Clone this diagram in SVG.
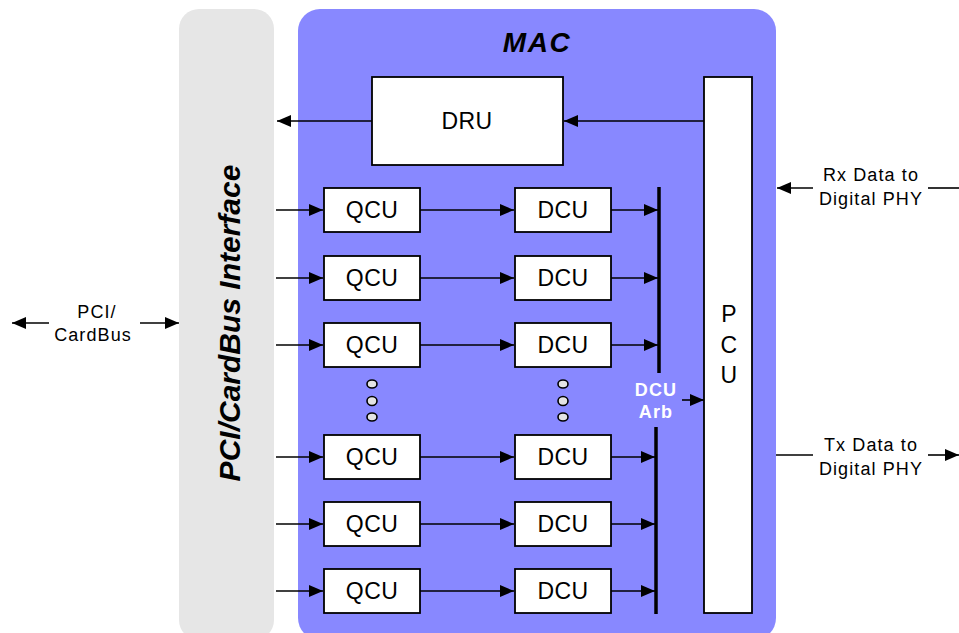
<svg xmlns="http://www.w3.org/2000/svg" width="959" height="633" viewBox="0 0 959 633">
<style>
.box{fill:#fff;stroke:#000;stroke-width:1.8}
.lbl{font-family:"Liberation Sans",Arial,sans-serif;font-size:23px;letter-spacing:0.4px;text-anchor:middle;fill:#000}
.side{font-family:"Liberation Sans",Arial,sans-serif;font-size:18px;letter-spacing:1.1px;text-anchor:middle;fill:#000}
.ln{stroke:#000;stroke-width:1.6;fill:none}
.arr{stroke:#000;stroke-width:1.6;fill:none;marker-end:url(#ah)}
.bar{stroke:#000;stroke-width:3.5}
.dot{fill:#e4e4e4;stroke:#000;stroke-width:1.6}
</style>
<defs>
<marker id="ah" markerUnits="userSpaceOnUse" markerWidth="14" markerHeight="12" refX="14" refY="6" orient="auto">
<path d="M0,0 L14,6 L0,12 z" fill="#000"/>
</marker>
</defs>
<rect width="959" height="633" fill="#fff"/>
<g id="pci-interface">
<rect x="179" y="9" width="95" height="631" rx="20" fill="#e6e6e6"/>
<text transform="translate(240,323) rotate(-90)" font-family="'Liberation Sans',Arial,sans-serif" font-size="30" font-weight="bold" font-style="italic" text-anchor="middle">PCI/CardBus Interface</text>
</g>
<g id="mac">
<rect x="298" y="9" width="478" height="631" rx="22" fill="#8888ff"/>
<text x="537" y="52" font-family="'Liberation Sans',Arial,sans-serif" font-size="28" font-weight="bold" font-style="italic" letter-spacing="1.5" text-anchor="middle">MAC</text>
</g>
<g id="dru"><rect class="box" x="372" y="77" width="191" height="88"/><text class="lbl" x="467" y="129">DRU</text></g>
<g id="pcu"><rect class="box" x="704" y="77" width="48" height="536"/>
<text class="lbl" x="729" y="322">P</text><text class="lbl" x="729" y="353">C</text><text class="lbl" x="729" y="383">U</text></g>
<g id="qcu1"><rect class="box" x="324" y="188" width="96" height="44"/><text class="lbl" x="372" y="218">QCU</text></g>
<g id="qcu2"><rect class="box" x="324" y="256" width="96" height="44"/><text class="lbl" x="372" y="286">QCU</text></g>
<g id="qcu3"><rect class="box" x="324" y="323" width="96" height="44"/><text class="lbl" x="372" y="353">QCU</text></g>
<g id="qcu4"><rect class="box" x="324" y="435" width="96" height="44"/><text class="lbl" x="372" y="465">QCU</text></g>
<g id="qcu5"><rect class="box" x="324" y="502" width="96" height="44"/><text class="lbl" x="372" y="532">QCU</text></g>
<g id="qcu6"><rect class="box" x="324" y="569" width="96" height="44"/><text class="lbl" x="372" y="599">QCU</text></g>
<g id="dcu1"><rect class="box" x="515" y="188" width="96" height="44"/><text class="lbl" x="563" y="218">DCU</text></g>
<g id="dcu2"><rect class="box" x="515" y="256" width="96" height="44"/><text class="lbl" x="563" y="286">DCU</text></g>
<g id="dcu3"><rect class="box" x="515" y="323" width="96" height="44"/><text class="lbl" x="563" y="353">DCU</text></g>
<g id="dcu4"><rect class="box" x="515" y="435" width="96" height="44"/><text class="lbl" x="563" y="465">DCU</text></g>
<g id="dcu5"><rect class="box" x="515" y="502" width="96" height="44"/><text class="lbl" x="563" y="532">DCU</text></g>
<g id="dcu6"><rect class="box" x="515" y="569" width="96" height="44"/><text class="lbl" x="563" y="599">DCU</text></g>
<g id="ellipsis">
<ellipse class="dot" cx="372" cy="384" rx="5" ry="4"/><ellipse class="dot" cx="372" cy="401" rx="5" ry="4.5"/><ellipse class="dot" cx="372" cy="417" rx="5" ry="4"/>
<ellipse class="dot" cx="563" cy="384" rx="5" ry="4"/><ellipse class="dot" cx="563" cy="401" rx="5" ry="4.5"/><ellipse class="dot" cx="563" cy="417" rx="5" ry="4"/>
</g>
<g id="dcu-arb">
<line class="bar" x1="659" y1="187" x2="659" y2="373"/>
<line class="bar" x1="656" y1="427" x2="656" y2="614"/>
<text x="656" y="396" font-family="'Liberation Sans',Arial,sans-serif" font-size="18" font-weight="bold" letter-spacing="1.2" fill="#fff" text-anchor="middle">DCU</text>
<text x="656" y="418" font-family="'Liberation Sans',Arial,sans-serif" font-size="18" font-weight="bold" letter-spacing="1.2" fill="#fff" text-anchor="middle">Arb</text>
</g>
<g id="external-labels">
<text class="side" x="97" y="318">PCI/</text>
<text class="side" x="93" y="341">CardBus</text>
<text class="side" x="871" y="181">Rx Data to</text>
<text class="side" x="871" y="205">Digital PHY</text>
<text class="side" x="871" y="451">Tx Data to</text>
<text class="side" x="871" y="475">Digital PHY</text>
</g>
<g id="connectors">
<line class="arr" x1="372" y1="121" x2="277" y2="121"/>
<line class="arr" x1="704" y1="121" x2="564" y2="121"/>
<line class="arr" x1="276" y1="210" x2="323" y2="210"/>
<line class="arr" x1="276" y1="278" x2="323" y2="278"/>
<line class="arr" x1="276" y1="345" x2="323" y2="345"/>
<line class="arr" x1="276" y1="457" x2="323" y2="457"/>
<line class="arr" x1="276" y1="524" x2="323" y2="524"/>
<line class="arr" x1="276" y1="591" x2="323" y2="591"/>
<line class="arr" x1="420" y1="210" x2="514" y2="210"/>
<line class="arr" x1="420" y1="278" x2="514" y2="278"/>
<line class="arr" x1="420" y1="345" x2="514" y2="345"/>
<line class="arr" x1="420" y1="457" x2="514" y2="457"/>
<line class="arr" x1="420" y1="524" x2="514" y2="524"/>
<line class="arr" x1="420" y1="591" x2="514" y2="591"/>
<line class="arr" x1="611" y1="210" x2="658" y2="210"/>
<line class="arr" x1="611" y1="278" x2="658" y2="278"/>
<line class="arr" x1="611" y1="345" x2="658" y2="345"/>
<line class="arr" x1="611" y1="457" x2="655" y2="457"/>
<line class="arr" x1="611" y1="524" x2="655" y2="524"/>
<line class="arr" x1="611" y1="591" x2="655" y2="591"/>
<line class="arr" x1="682" y1="400" x2="704" y2="400"/>
<line class="arr" x1="49" y1="323" x2="12" y2="323"/>
<line class="arr" x1="140" y1="323" x2="179" y2="323"/>
<line class="ln" x1="959" y1="188" x2="928" y2="188"/>
<line class="arr" x1="813" y1="188" x2="777" y2="188"/>
<line class="ln" x1="776" y1="455" x2="813" y2="455"/>
<line class="arr" x1="928" y1="455" x2="959" y2="455"/>
</g>
</svg>
